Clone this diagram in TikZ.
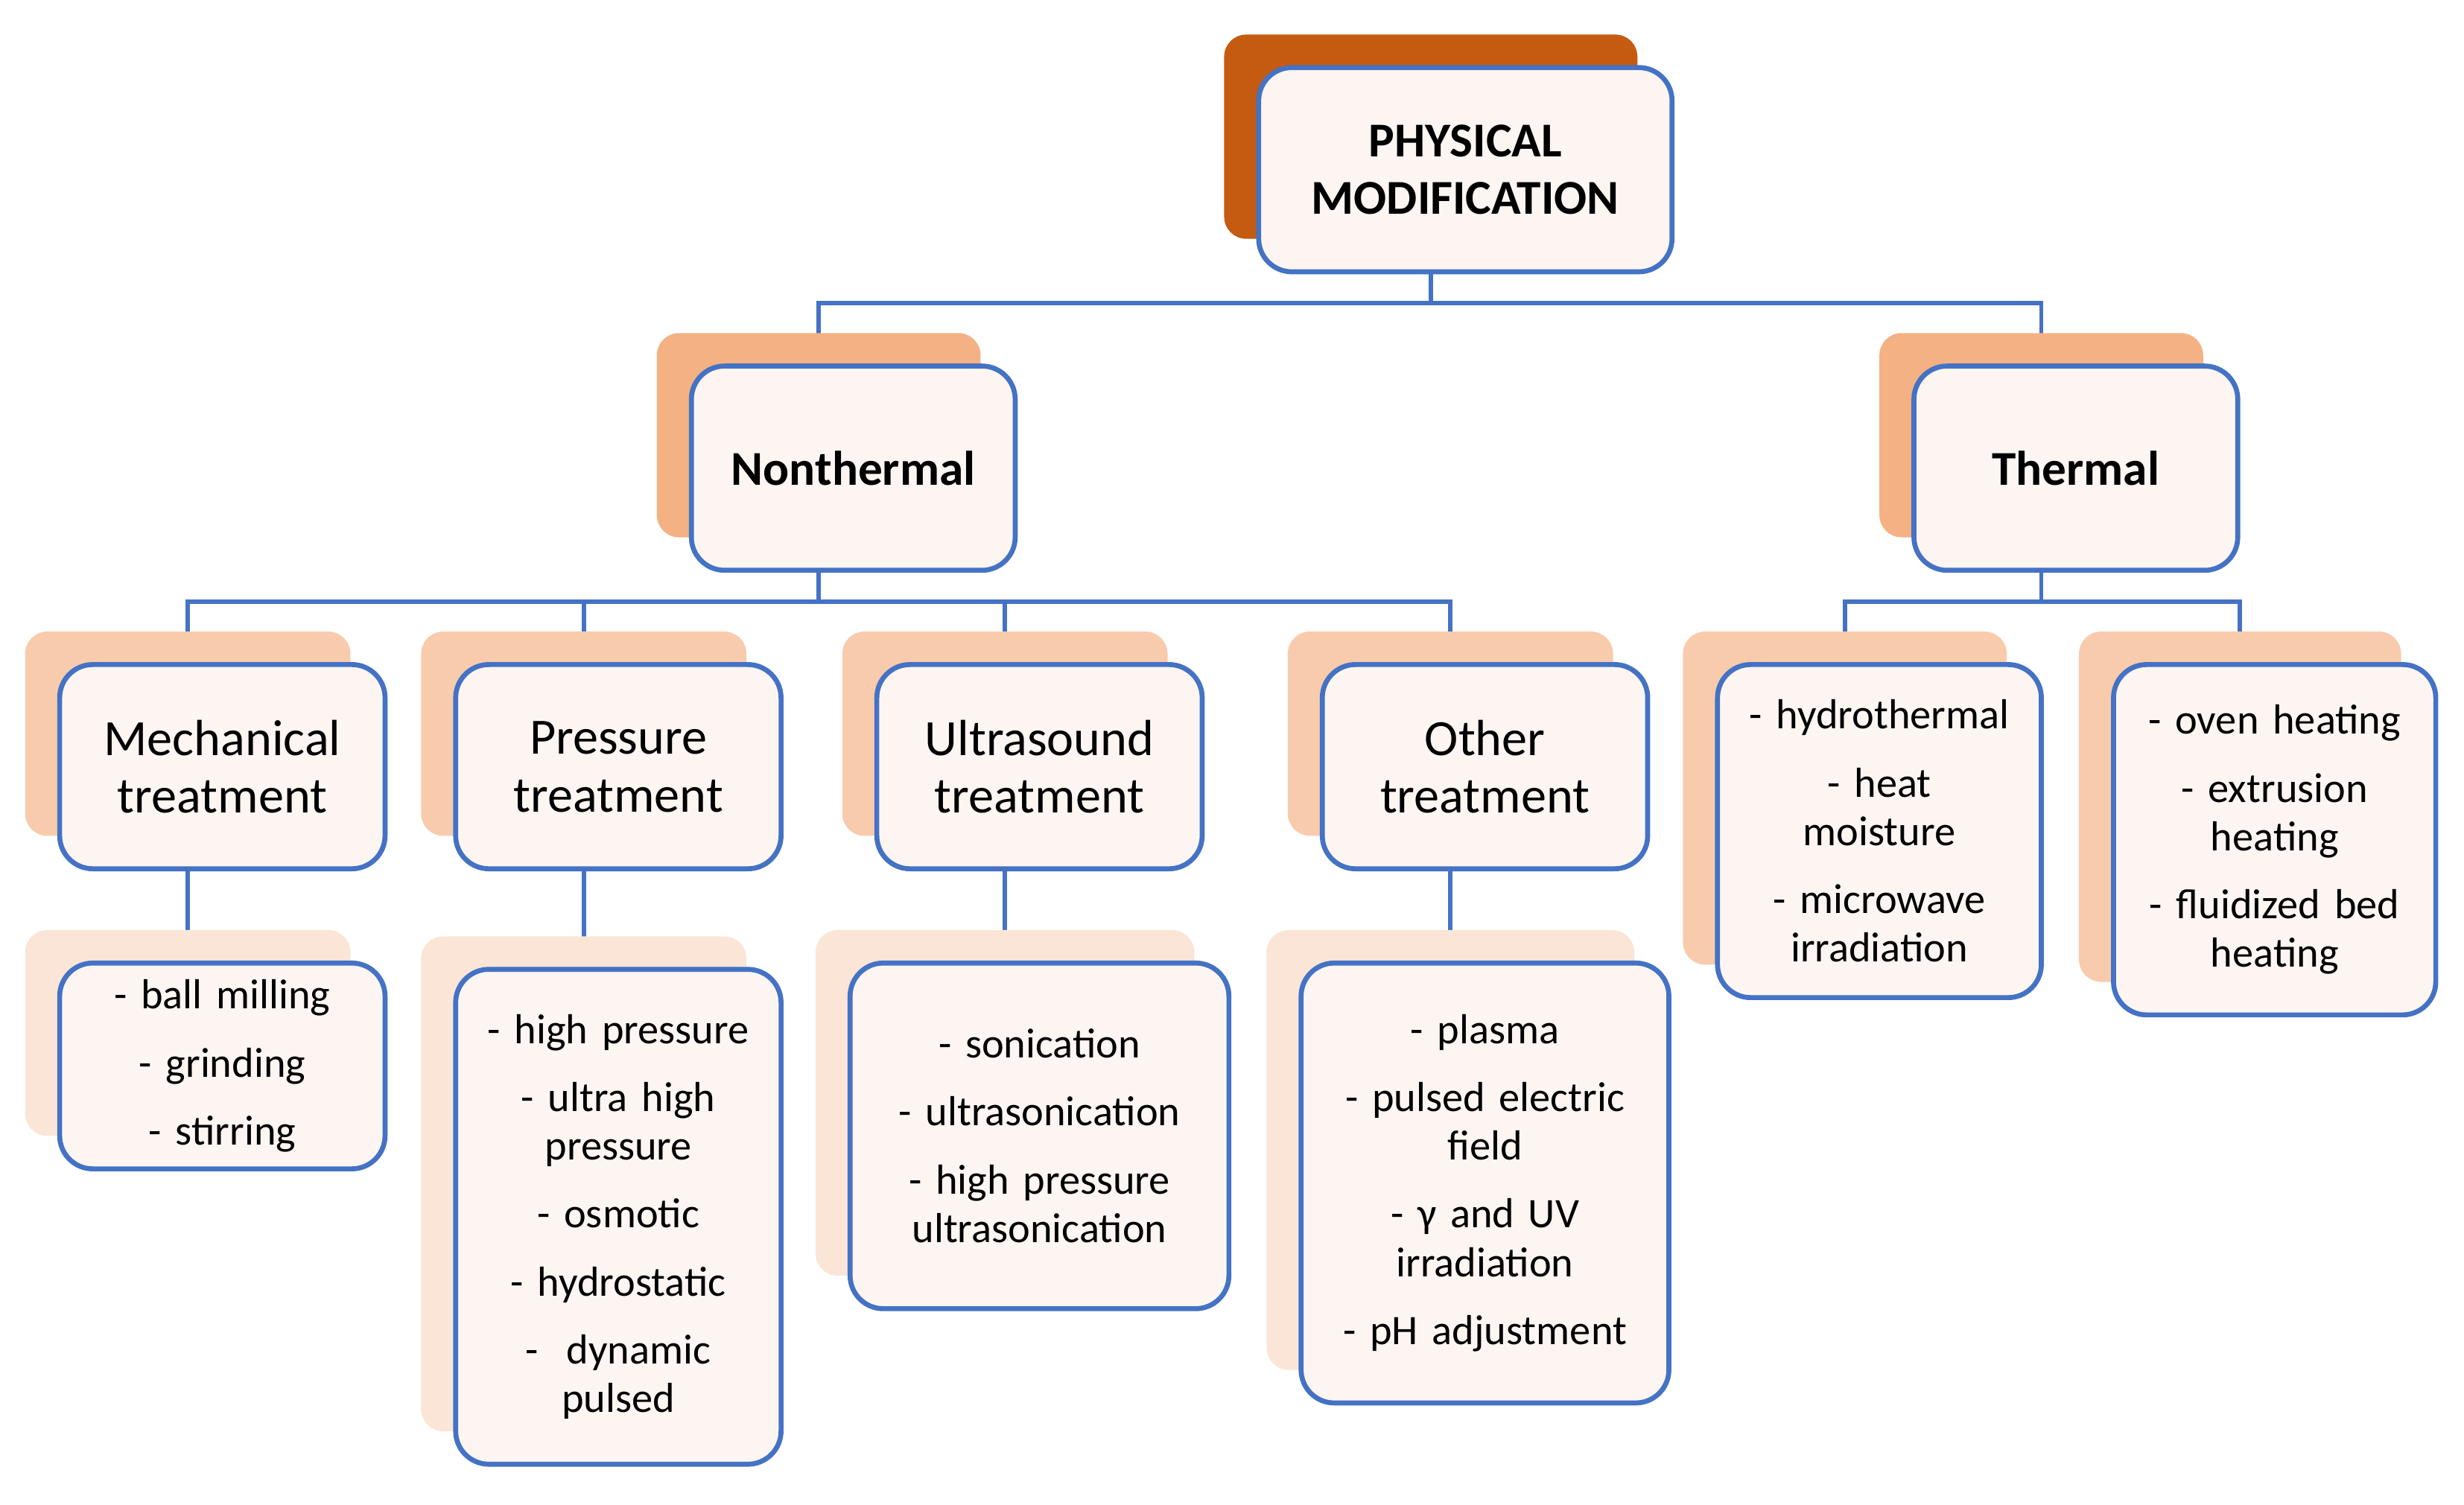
\documentclass[tikz,border=0pt]{standalone}
\usepackage{fontspec}
\setmainfont{Carlito}
\usetikzlibrary{backgrounds}
\definecolor{bl}{HTML}{4472C4}
\definecolor{c0}{HTML}{C55A11}
\definecolor{c1}{HTML}{F4B183}
\definecolor{c2}{HTML}{F8CBAD}
\definecolor{c3}{HTML}{FBE5D6}
\definecolor{ff}{HTML}{FDF5F1}
\tikzset{
  front/.style={draw=bl,line width=0.9pt,fill=ff,rounded corners=6pt,align=center,inner sep=2pt},
  back/.style={rounded corners=4pt,inner sep=0pt},
  conn/.style={draw=bl,line width=0.8pt},
  t1/.style={font=\fontsize{8.8}{10.5}\selectfont\bfseries},
  t2/.style={font=\fontsize{9.2}{10.5}\selectfont},
  t3/.style={font=\fontsize{7.6}{8.8}\selectfont},
}
% name, cx, cy, w, h, backcolor, style, text
\newcommand\bx[8]{%
  \node[back,fill=#6,minimum width={#4*0.01cm},minimum height={#5*0.01cm}] (#1b) at (#2-22,#3-21) {};
  \node[front,#7,minimum width={#4*0.01cm},minimum height={#5*0.01cm},text width={(#4-14)*0.01cm}] (#1) at (#2,#3) {#8};}
\begin{document}
\begin{tikzpicture}[x=0.01cm,y=-0.01cm]
\useasboundingbox (0,0) rectangle (1568,957.5);
\bx{top}{932.5}{108}{263}{130}{c0}{t1}{PHYSICAL\\MODIFICATION}
\bx{nt}{543}{298}{206}{130}{c1}{t1}{Nonthermal}
\bx{th}{1321}{298}{206}{130}{c1}{t1}{Thermal}
\bx{me}{141.5}{488}{207}{130}{c2}{t2}{Mechanical\\treatment}
\bx{pr}{393.5}{488}{207}{130}{c2}{t2}{Pressure\\treatment}
\bx{us}{661.5}{488}{207}{130}{c2}{t2}{Ultrasound\\treatment}
\bx{ot}{945}{488}{207}{130}{c2}{t2}{Other\\treatment}
\bx{hy}{1196}{529}{206}{212}{c2}{t3}{- hydrothermal\\[3.5pt]- heat\\moisture\\[3.5pt]- microwave\\irradiation}
\bx{ov}{1447.5}{534.5}{205}{223}{c2}{t3}{- oven heating\\[3.5pt]- extrusion\\heating\\[3.5pt]- fluidized bed\\heating}
\bx{bm}{141.5}{678.5}{207}{131}{c3}{t3}{- ball milling\\[3.5pt]- grinding\\[3.5pt]- stirring}
\bx{hp}{393.5}{774.5}{207}{315}{c3}{t3}{- high pressure\\[3.5pt]- ultra high\\pressure\\[3.5pt]- osmotic\\[3.5pt]- hydrostatic\\[3.5pt]-\ \ dynamic\\pulsed}
\bx{so}{661.5}{723}{241}{220}{c3}{t3}{- sonication\\[3.5pt]- ultrasonication\\[3.5pt]- high pressure\\ultrasonication}
\bx{pl}{945}{753}{234}{280}{c3}{t3}{- plasma\\[3.5pt]- pulsed electric\\field\\[3.5pt]- γ and UV\\irradiation\\[3.5pt]- pH adjustment}
\coordinate (b1) at (0,193);
\coordinate (b2) at (0,383);
\begin{scope}[on background layer]
\draw[conn] (topb.center) -- (topb.center|-b1) -| (ntb.center);
\draw[conn] (topb.center|-b1) -| (thb.center);
\draw[conn] (ntb.center) -- (ntb.center|-b2) -| (meb.center);
\draw[conn] (ntb.center|-b2) -| (prb.center);
\draw[conn] (ntb.center|-b2) -| (usb.center);
\draw[conn] (ntb.center|-b2) -| (otb.center);
\draw[conn] (thb.center) -- (thb.center|-b2) -| (hyb.center);
\draw[conn] (thb.center|-b2) -| (ovb.center);
\draw[conn] (meb.center) -- (bmb.center);
\draw[conn] (prb.center) -- (hpb.center);
\draw[conn] (usb.center) -- (sob.center);
\draw[conn] (otb.center) -- (plb.center);
\end{scope}
\end{tikzpicture}
\end{document}
